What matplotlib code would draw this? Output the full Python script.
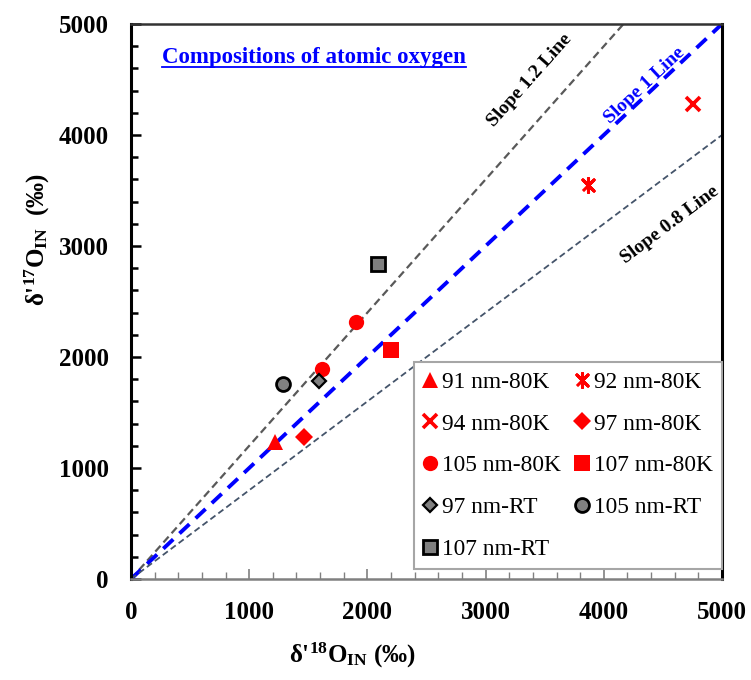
import numpy as np
import matplotlib
matplotlib.use('Agg')
import matplotlib.pyplot as plt

plt.rcParams['font.family'] = ['Liberation Serif', 'DejaVu Serif']
plt.rcParams['mathtext.fontset'] = 'custom'
plt.rcParams['mathtext.rm'] = 'Liberation Serif:bold'
plt.rcParams['mathtext.bf'] = 'Liberation Serif:bold'
plt.rcParams['mathtext.it'] = 'Liberation Serif:bold'

# samples: (label, d18O, d17O)
labels = ['91 nm-80K', '92 nm-80K', '94 nm-80K', '97 nm-80K', '105 nm-80K',
          '107 nm-80K', '97 nm-RT', '105 nm-RT', '107 nm-RT']
d18 = [[1220], [3865], [4757], [1464], [1613, 1904], [2197], [1593], [1289], [2092]]
d17 = [[1230], [3550], [4280], [1280], [1889, 2318], [2063], [1784], [1757], [2835]]

slopes = [1.2, 1.0, 0.8]
slope_labels = ['Slope 1.2 Line', 'Slope 1 Line', 'Slope 0.8 Line']

red = '#FF0000'
grey = '#808080'
asterisk = [(-1, -1), (1, 1), (0, 0), (-1, 1), (1, -1), (0, 0), (0, 1.25), (0, -1.25), (0, 0)]
styles = [
    dict(marker='^', ms=11, mfc=red, mec=red, mew=0),
    dict(marker=asterisk, ms=10, mfc='none', mec=red, mew=2.2),
    dict(marker='x', ms=10.5, mfc='none', mec=red, mew=2.6),
    dict(marker='D', ms=9, mfc=red, mec=red, mew=0),
    dict(marker='o', ms=11, mfc=red, mec=red, mew=0),
    dict(marker='s', ms=11.5, mfc=red, mec=red, mew=0),
    dict(marker='D', ms=7.5, mfc=grey, mec='black', mew=1.6),
    dict(marker='o', ms=10, mfc=grey, mec='black', mew=2),
    dict(marker='s', ms=10, mfc=grey, mec='black', mew=2),
]

fig = plt.figure(figsize=(7.51, 6.8), dpi=100)
ax = fig.add_axes([131 / 751, 1 - 579 / 680, 591 / 751, 555 / 680])

xs = np.array([0, 5000])
ax.plot(xs, slopes[0] * xs, ls=(0, (3.5, 2)), color='#595959', lw=1.6, zorder=1)
ax.plot(xs, slopes[1] * xs, ls=(0, (3.5, 2.2)), color='#0000FF', lw=2.8, zorder=1)
ax.plot(xs, slopes[2] * xs, ls=(0, (3.5, 2)), color='#44546A', lw=1.3, zorder=1)

handles = []
for lab, x, y, st in zip(labels, d18, d17, styles):
    h, = ax.plot(x, y, ls='none', label=lab, zorder=3, **st)
    handles.append(h)

ax.set_xlim(0, 5000)
ax.set_ylim(0, 5000)
ax.set_xticks(np.arange(0, 5001, 1000))
ax.set_yticks(np.arange(0, 5001, 1000))
ax.set_xticks(np.arange(0, 5001, 200), minor=True)
ax.set_yticks(np.arange(0, 5001, 200), minor=True)
ax.tick_params(which='both', direction='in', labelsize=18)
ax.tick_params(axis='x', which='major', length=7, width=1.2, colors='#808080', pad=16, labelcolor='black')
ax.tick_params(axis='x', which='minor', length=5, width=1, colors='#808080')
ax.tick_params(axis='y', which='major', length=7, width=1.8, pad=16)
ax.tick_params(axis='y', which='minor', length=5, width=1.8)
for lbl in ax.get_xticklabels() + ax.get_yticklabels():
    lbl.set_fontweight('bold')

for side in ['left', 'right']:
    ax.spines[side].set_linewidth(2.2)
ax.spines['top'].set_linewidth(1.8)
ax.spines['top'].set_color('#333333')
ax.spines['bottom'].set_color('#808080')
ax.spines['bottom'].set_linewidth(1.8)

# slope annotations
ang = lambda s: np.degrees(np.arctan(s * (555 / 591)))
ax.text(3376, 4495, slope_labels[0], rotation=ang(1.2), ha='center', va='center',
        fontsize=14, fontweight='bold', color='black', rotation_mode='anchor')
ax.text(4349, 4450, slope_labels[1], rotation=ang(1.0), ha='center', va='center',
        fontsize=14, fontweight='bold', color='#0000FF', rotation_mode='anchor')
ax.text(4560, 3189, slope_labels[2], rotation=ang(0.8), ha='center', va='center',
        fontsize=14, fontweight='bold', color='black', rotation_mode='anchor')

title = ax.text(0.052, 0.94, 'Compositions of atomic oxygen', transform=ax.transAxes,
                ha='left', va='center', fontsize=16.5, fontweight='bold', color='#0000FF')

# axis labels
ax.text(0.374, -0.137, r"δ'$^{18}$O$_{IN}$ (‰)", transform=ax.transAxes, ha='center',
        va='center', fontsize=18, fontweight='bold')
ax.text(-0.159, 0.611, r"δ'$^{17}$O$_{IN}$  (‰)", transform=ax.transAxes, ha='center',
        va='center', fontsize=18, fontweight='bold', rotation=90)

# legend: matplotlib fills column-wise, reorder for row-wise reading
order = [0, 2, 4, 6, 8, 1, 3, 5, 7]
leg = ax.legend([handles[i] for i in order], [labels[i] for i in order], ncol=2,
                loc='lower right', bbox_to_anchor=(1.0, 0.018), fontsize=16.8,
                frameon=True, fancybox=False, edgecolor='#A6A6A6', framealpha=1,
                handlelength=0.6, handletextpad=0.22, columnspacing=0.6,
                labelspacing=0.88, borderpad=0.38, borderaxespad=0)
leg.get_frame().set_linewidth(1.5)

# underline the title
fig.canvas.draw()
bb = title.get_window_extent().transformed(ax.transAxes.inverted())
ax.plot([bb.x0, bb.x1], [bb.y0 + 0.002, bb.y0 + 0.002], transform=ax.transAxes,
        color='#0000FF', lw=1.3, clip_on=False)

fig.savefig('out.png', dpi=100)
